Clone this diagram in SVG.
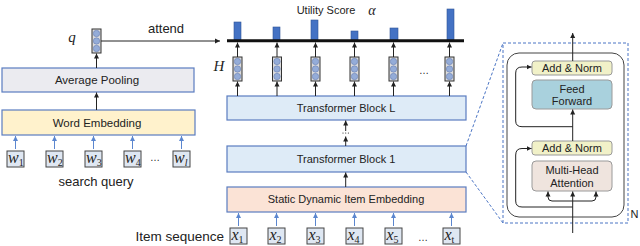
<svg xmlns="http://www.w3.org/2000/svg" width="640" height="246" viewBox="0 0 640 246">
<style>
.lbl{font-family:"Liberation Sans",Arial,sans-serif;fill:#222;text-anchor:middle}
.tf{font-family:"Liberation Sans",Arial,sans-serif;font-size:11px;fill:#222;text-anchor:middle}
.math{font-family:"Liberation Serif","DejaVu Serif",serif;font-style:italic;fill:#222}
.blue{fill:none;stroke:#5b86cf;stroke-width:1}
.blk{fill:none;stroke:#222;stroke-width:1}
.box{stroke:#5a7cc0;stroke-width:1.2}
.tok{fill:#dfe7f2;stroke:#444;stroke-width:1}
.tbox{stroke:#9a9a9a;stroke-width:1}
.bar{fill:#4472c4;stroke:#2f5597;stroke-width:0.6}
</style>
<defs>
<marker id="ab" markerWidth="6" markerHeight="6" refX="5" refY="3" orient="auto" markerUnits="userSpaceOnUse"><path d="M0,0.5 L5,3 L0,5.5 Z" fill="#222"/></marker>
<marker id="abl" markerWidth="6" markerHeight="6" refX="5" refY="3" orient="auto" markerUnits="userSpaceOnUse"><path d="M0,0.5 L5,3 L0,5.5 Z" fill="#5b86cf"/></marker>
<g id="vec">
<rect x="-4.5" y="0" width="9" height="24" fill="#dcdcdc" stroke="#333" stroke-width="1"/>
<circle cx="0" cy="4.5" r="3.2" fill="#94acd8" stroke="#6a80b3" stroke-width="0.6"/>
<circle cx="0" cy="12" r="3.2" fill="#94acd8" stroke="#6a80b3" stroke-width="0.6"/>
<circle cx="0" cy="19.5" r="3.2" fill="#94acd8" stroke="#6a80b3" stroke-width="0.6"/>
</g>
</defs>

<!-- Left: query tower -->
<g id="q">
<use href="#vec" x="96.5" y="29"/>
<text class="math" x="72" y="42" font-size="15" text-anchor="middle">q</text>
</g>
<g id="avgpool">
<rect class="box" x="2" y="68" width="192" height="24" fill="#ebebf0"/>
<text class="lbl" x="97" y="84" font-size="11.5">Average Pooling</text>
</g>
<g id="wordemb">
<rect class="box" x="2" y="110" width="193" height="25" fill="#fff2cc"/>
<text class="lbl" x="97" y="127" font-size="11.5">Word Embedding</text>
</g>
<g id="w1"><rect class="tok" x="7" y="151" width="17" height="16"/><text class="math" x="8" y="163" font-size="16">w<tspan font-size="10" dy="3" font-style="normal">1</tspan></text></g>
<g id="w2"><rect class="tok" x="46" y="151" width="17" height="16"/><text class="math" x="47" y="163" font-size="16">w<tspan font-size="10" dy="3" font-style="normal">2</tspan></text></g>
<g id="w3"><rect class="tok" x="85" y="151" width="17" height="16"/><text class="math" x="86" y="163" font-size="16">w<tspan font-size="10" dy="3" font-style="normal">3</tspan></text></g>
<g id="w4"><rect class="tok" x="124" y="151" width="17" height="16"/><text class="math" x="125" y="163" font-size="16">w<tspan font-size="10" dy="3" font-style="normal">4</tspan></text></g>
<g id="wl"><rect class="tok" x="173" y="151" width="17" height="16"/><text class="math" x="174" y="163" font-size="16">w<tspan font-size="10" dy="3">l</tspan></text></g>
<text class="lbl" x="155" y="161" font-size="10">…</text>
<text class="lbl" x="96" y="186" font-size="13">search query</text>

<!-- Middle: item tower -->
<g id="score">
<text class="lbl" x="326" y="14" font-size="11">Utility Score</text>
<text class="math" x="372" y="15" font-size="14" text-anchor="middle">α</text>
<rect class="bar" x="234" y="22" width="7" height="18"/>
<rect class="bar" x="273" y="27" width="7" height="13"/>
<rect class="bar" x="311" y="20" width="7" height="20"/>
<rect class="bar" x="351" y="31" width="7" height="9"/>
<rect class="bar" x="390" y="28" width="8" height="12"/>
<rect class="bar" x="447" y="9" width="7" height="31"/>
<line x1="227" y1="40.7" x2="464" y2="40.7" stroke="#111" stroke-width="3"/>
</g>
<g id="H">
<text class="math" x="219" y="71" font-size="15" text-anchor="middle">H</text>
<use href="#vec" x="237.5" y="57"/>
<use href="#vec" x="277" y="57"/>
<use href="#vec" x="315.5" y="57"/>
<use href="#vec" x="354.5" y="57"/>
<use href="#vec" x="393.5" y="57"/>
<use href="#vec" x="449.5" y="57"/>
<text class="lbl" x="424" y="74" font-size="10">…</text>
</g>
<g id="blockL">
<rect class="box" x="227" y="96" width="239" height="24" fill="#deebf7"/>
<text class="tf" x="346" y="112">Transformer Block L</text>
</g>
<g id="block1">
<rect class="box" x="227" y="146" width="239" height="26" fill="#deebf7"/>
<text class="tf" x="346" y="163">Transformer Block 1</text>
</g>
<g id="itememb">
<rect class="box" x="227" y="187" width="239" height="25" fill="#fbe3d6"/>
<text class="tf" x="346" y="203">Static Dynamic Item Embedding</text>
</g>
<g id="x1"><rect class="tok" x="230" y="228" width="17" height="16"/><text class="math" x="231.5" y="240" font-size="16">x<tspan font-size="10" dy="3" font-style="normal">1</tspan></text></g>
<g id="x2"><rect class="tok" x="268" y="228" width="17" height="16"/><text class="math" x="269.5" y="240" font-size="16">x<tspan font-size="10" dy="3" font-style="normal">2</tspan></text></g>
<g id="x3"><rect class="tok" x="307" y="228" width="17" height="16"/><text class="math" x="308.5" y="240" font-size="16">x<tspan font-size="10" dy="3" font-style="normal">3</tspan></text></g>
<g id="x4"><rect class="tok" x="346" y="228" width="17" height="16"/><text class="math" x="347.5" y="240" font-size="16">x<tspan font-size="10" dy="3" font-style="normal">4</tspan></text></g>
<g id="x5"><rect class="tok" x="385" y="228" width="17" height="16"/><text class="math" x="386.5" y="240" font-size="16">x<tspan font-size="10" dy="3" font-style="normal">5</tspan></text></g>
<g id="xt"><rect class="tok" x="443" y="228" width="17" height="16"/><text class="math" x="444.5" y="240" font-size="16">x<tspan font-size="10" dy="3" font-style="normal">t</tspan></text></g>
<text class="lbl" x="423" y="241" font-size="10">…</text>
<text x="224" y="241" font-family="'Liberation Sans',Arial,sans-serif" font-size="13.5" fill="#222" text-anchor="end">Item sequence</text>

<!-- Right: transformer detail -->
<g id="detail">
<rect x="503" y="43" width="125" height="180" fill="none" stroke="#4a74c4" stroke-width="1" stroke-dasharray="3,2"/>
<rect x="507" y="53" width="117" height="164" rx="12" fill="none" stroke="#444" stroke-width="1"/>
<text x="630.5" y="218" font-family="'Liberation Sans',Arial,sans-serif" font-size="11" fill="#222">N</text>
</g>
<g id="addnorm2">
<rect class="tbox" x="532" y="61" width="80" height="14" rx="3" fill="#f1f1c8"/>
<text class="tf" x="572" y="72">Add &amp; Norm</text>
</g>
<g id="ffn">
<rect class="tbox" x="532" y="80" width="80" height="29" rx="4" fill="#a9d1dd"/>
<text class="tf" x="572" y="93">Feed</text>
<text class="tf" x="572" y="105">Forward</text>
</g>
<g id="addnorm1">
<rect class="tbox" x="532" y="141" width="80" height="14" rx="3" fill="#f1f1c8"/>
<text class="tf" x="572" y="152">Add &amp; Norm</text>
</g>
<g id="mha">
<rect class="tbox" x="532" y="161" width="80" height="30" rx="4" fill="#efe4de"/>
<text class="tf" x="572" y="174">Multi-Head</text>
<text class="tf" x="572" y="187">Attention</text>
</g>

<!-- Dashed zoom lines -->
<g id="zoomlines" fill="none" stroke="#4a74c4" stroke-width="1" stroke-dasharray="3,2">
<line x1="466" y1="146" x2="503" y2="43"/>
<line x1="466" y1="172" x2="503" y2="223"/>
</g>

<!-- Connectors -->
<g id="connectors">
<line class="blk" x1="96.5" y1="68" x2="96.5" y2="53.5" marker-end="url(#ab)"/>
<line class="blk" x1="96.5" y1="110" x2="96.5" y2="92.5" marker-end="url(#ab)"/>
<line class="blk" x1="101" y1="41" x2="220" y2="41" marker-end="url(#ab)"/>
<text class="lbl" x="166" y="33" font-size="13">attend</text>
<line class="blue" x1="15.5" y1="149" x2="15.5" y2="136" marker-end="url(#abl)"/>
<line class="blue" x1="54.5" y1="149" x2="54.5" y2="136" marker-end="url(#abl)"/>
<line class="blue" x1="93.5" y1="149" x2="93.5" y2="136" marker-end="url(#abl)"/>
<line class="blue" x1="132.5" y1="149" x2="132.5" y2="136" marker-end="url(#abl)"/>
<line class="blue" x1="181.5" y1="149" x2="181.5" y2="136" marker-end="url(#abl)"/>
<line class="blk" x1="237.5" y1="57" x2="237.5" y2="42.5" marker-end="url(#ab)"/>
<line class="blk" x1="277" y1="57" x2="277" y2="42.5" marker-end="url(#ab)"/>
<line class="blk" x1="315.5" y1="57" x2="315.5" y2="42.5" marker-end="url(#ab)"/>
<line class="blk" x1="354.5" y1="57" x2="354.5" y2="42.5" marker-end="url(#ab)"/>
<line class="blk" x1="393.5" y1="57" x2="393.5" y2="42.5" marker-end="url(#ab)"/>
<line class="blk" x1="449.5" y1="57" x2="449.5" y2="42.5" marker-end="url(#ab)"/>
<line class="blk" x1="237.5" y1="96" x2="237.5" y2="81.5" marker-end="url(#ab)"/>
<line class="blk" x1="277" y1="96" x2="277" y2="81.5" marker-end="url(#ab)"/>
<line class="blk" x1="315.5" y1="96" x2="315.5" y2="81.5" marker-end="url(#ab)"/>
<line class="blk" x1="354.5" y1="96" x2="354.5" y2="81.5" marker-end="url(#ab)"/>
<line class="blk" x1="393.5" y1="96" x2="393.5" y2="81.5" marker-end="url(#ab)"/>
<line class="blk" x1="449.5" y1="96" x2="449.5" y2="81.5" marker-end="url(#ab)"/>
<line class="blk" x1="345.7" y1="146" x2="345.7" y2="136.5" marker-end="url(#ab)"/>
<circle cx="343" cy="133" r="0.6" fill="#222"/>
<circle cx="345.7" cy="133" r="0.6" fill="#222"/>
<circle cx="348.4" cy="133" r="0.6" fill="#222"/>
<line class="blk" x1="345.7" y1="131" x2="345.7" y2="120.5" marker-end="url(#ab)"/>
<line class="blk" x1="345.7" y1="187" x2="345.7" y2="172.5" marker-end="url(#ab)"/>
<line class="blue" x1="238.5" y1="226" x2="238.5" y2="213" marker-end="url(#abl)"/>
<line class="blue" x1="276.5" y1="226" x2="276.5" y2="213" marker-end="url(#abl)"/>
<line class="blue" x1="315.5" y1="226" x2="315.5" y2="213" marker-end="url(#abl)"/>
<line class="blue" x1="354.5" y1="226" x2="354.5" y2="213" marker-end="url(#abl)"/>
<line class="blue" x1="393.5" y1="226" x2="393.5" y2="213" marker-end="url(#abl)"/>
<line class="blue" x1="451.5" y1="226" x2="451.5" y2="213" marker-end="url(#abl)"/>
<line class="blk" x1="572.7" y1="61" x2="572.7" y2="33" marker-end="url(#ab)"/>
<line class="blk" x1="572.7" y1="141" x2="572.7" y2="109.5" marker-end="url(#ab)"/>
<line class="blk" x1="572.7" y1="233" x2="572.7" y2="191.5" marker-end="url(#ab)"/>
<path class="blk" d="M572.7,201 H552 Q548,201 548,197 V191.5" marker-end="url(#ab)"/>
<path class="blk" d="M572.7,201 H592 Q596,201 596,197 V191.5" marker-end="url(#ab)"/>
<path class="blk" d="M572.7,207 H522 Q515.7,207 515.7,201 V155 Q515.7,148.5 522,148.5 H531.5" marker-end="url(#ab)"/>
<path class="blk" d="M572.7,126.7 H522 Q515.7,126.7 515.7,121 V73 Q515.7,67 522,67 H531.5" marker-end="url(#ab)"/>
</g>
</svg>
